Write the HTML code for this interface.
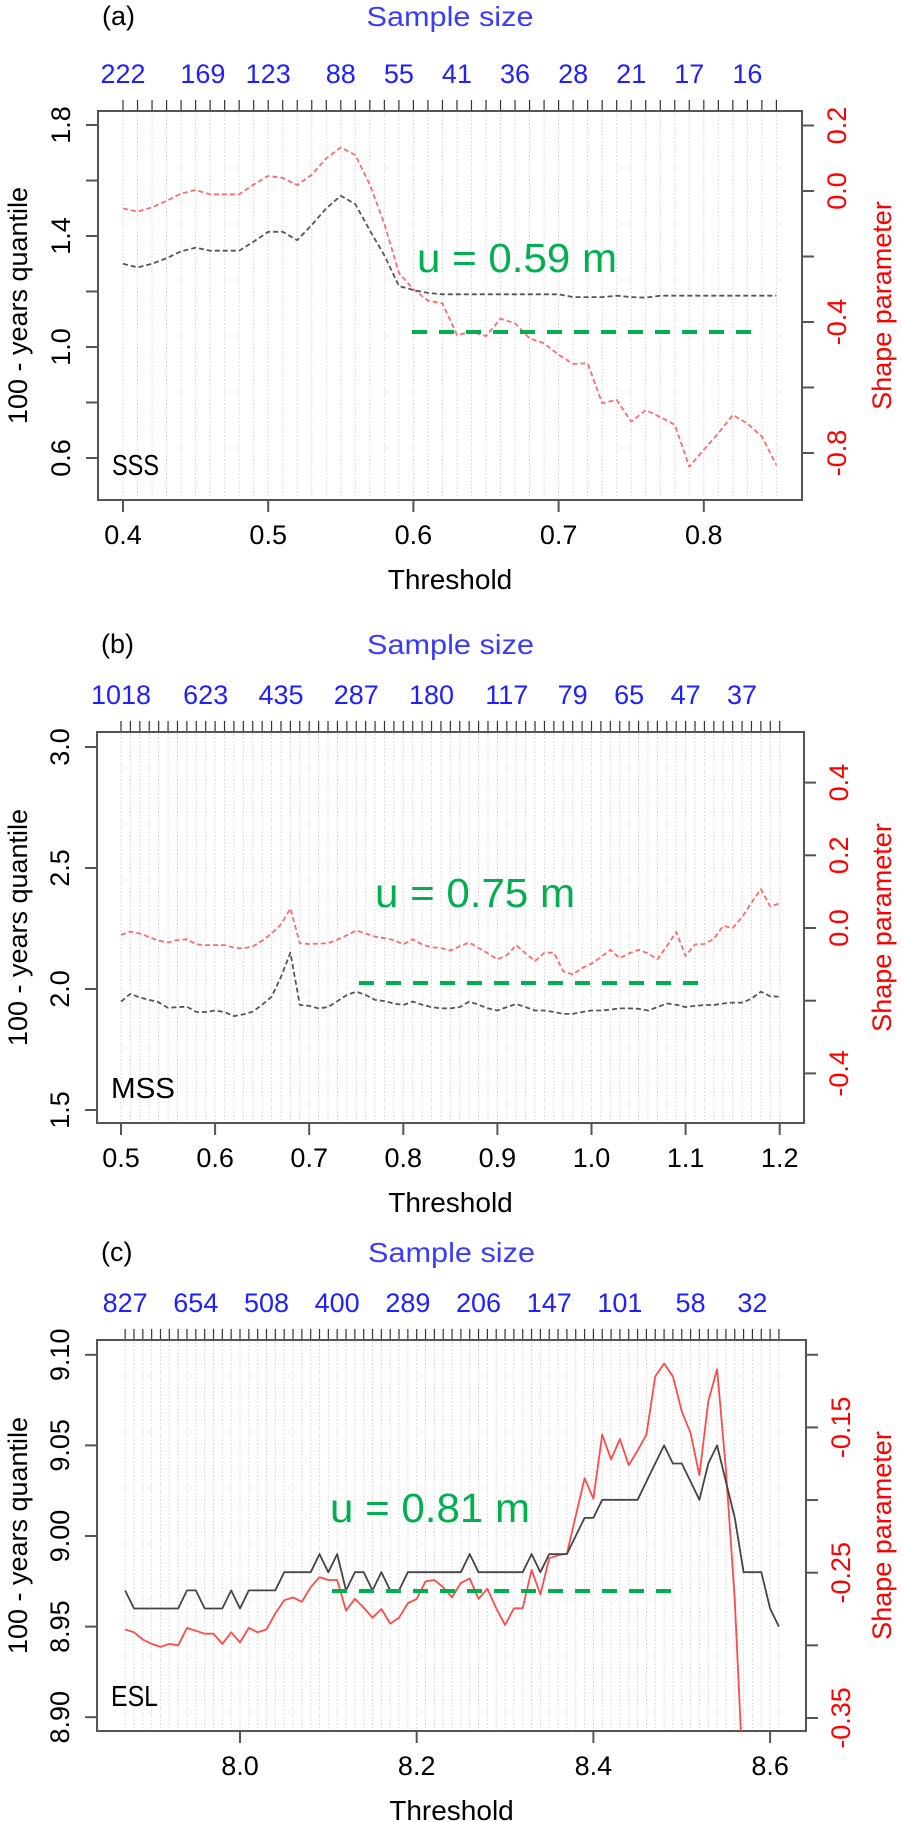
<!DOCTYPE html>
<html>
<head>
<meta charset="utf-8">
<style>
html,body{margin:0;padding:0;background:#fff;}
svg{display:block;}
text{font-family:"Liberation Sans",Arial,sans-serif;}
</style>
</head>
<body>
<svg id="fig" width="902" height="1822" viewBox="0 0 902 1822" xmlns="http://www.w3.org/2000/svg"></svg>
<script>
// ---------- Panel (a) SSS data ----------
const aStart = 0.40;
const aQuantile = [1.30,1.287,1.30,1.32,1.345,1.358,1.347,1.347,1.347,1.38,1.415,1.415,1.385,1.44,1.50,1.545,1.515,1.42,1.33,1.22,1.205,1.195,1.19,1.19,1.19,1.19,1.19,1.19,1.19,1.19,1.19,1.18,1.18,1.18,1.185,1.18,1.178,1.185,1.185,1.185,1.185,1.185,1.185,1.185,1.185,1.185];
const aShape = [-0.053,-0.063,-0.05,-0.03,-0.008,0.003,-0.01,-0.01,-0.01,0.02,0.046,0.04,0.018,0.05,0.10,0.133,0.11,0.02,-0.1,-0.25,-0.30,-0.335,-0.343,-0.44,-0.43,-0.443,-0.39,-0.404,-0.45,-0.465,-0.50,-0.528,-0.526,-0.648,-0.638,-0.704,-0.669,-0.69,-0.714,-0.842,-0.79,-0.74,-0.684,-0.71,-0.75,-0.837];
const aSizeLabels = ["222","169","123","88","55","41","36","28","21","17","16"];
const aSizeAt = [0.40,0.455,0.50,0.55,0.59,0.63,0.67,0.71,0.75,0.79,0.83];
const aXTicks = [0.4,0.5,0.6,0.7,0.8];
const aLeftTicks = [0.6,0.8,1.0,1.2,1.4,1.6,1.8];
const aLeftLabels = ["0.6","","1.0","","1.4","","1.8"];
const aRightTicks = [-0.8,-0.6,-0.4,-0.2,0.0,0.2];
const aRightLabels = ["-0.8","","-0.4","","0.0","0.2"];

// ---------- Panel (b) MSS data ----------
const bStart = 0.50;
const bQuantile = [1.948,1.98,1.965,1.955,1.945,1.922,1.925,1.927,1.905,1.905,1.911,1.905,1.888,1.895,1.906,1.935,1.968,2.05,2.15,1.934,1.93,1.92,1.925,1.95,1.975,1.989,1.975,1.955,1.95,1.94,1.934,1.948,1.935,1.925,1.92,1.92,1.925,1.948,1.935,1.92,1.911,1.925,1.938,1.925,1.911,1.911,1.905,1.897,1.897,1.905,1.911,1.911,1.915,1.92,1.92,1.918,1.911,1.925,1.94,1.935,1.925,1.93,1.934,1.934,1.94,1.944,1.944,1.96,1.989,1.97,1.968];
const bShape = [-0.019,-0.010,-0.015,-0.025,-0.035,-0.040,-0.033,-0.031,-0.045,-0.047,-0.047,-0.047,-0.054,-0.056,-0.051,-0.035,-0.015,0.01,0.054,-0.042,-0.044,-0.043,-0.042,-0.032,-0.02,-0.007,-0.015,-0.024,-0.028,-0.033,-0.045,-0.031,-0.045,-0.053,-0.055,-0.062,-0.050,-0.040,-0.055,-0.07,-0.086,-0.075,-0.047,-0.07,-0.091,-0.068,-0.068,-0.119,-0.128,-0.11,-0.098,-0.08,-0.06,-0.083,-0.07,-0.06,-0.07,-0.086,-0.05,-0.011,-0.077,-0.045,-0.044,-0.03,0.006,0.000,0.03,0.07,0.107,0.059,0.068];
const bSizeLabels = ["1018","623","435","287","180","117","79","65","47","37"];
const bSizeAt = [0.50,0.59,0.67,0.75,0.83,0.91,0.98,1.04,1.10,1.16];
const bXTicks = [0.5,0.6,0.7,0.8,0.9,1.0,1.1,1.2];
const bLeftTicks = [1.5,2.0,2.5,3.0];
const bLeftLabels = ["1.5","2.0","2.5","3.0"];
const bRightTicks = [-0.4,-0.2,0.0,0.2,0.4];
const bRightLabels = ["-0.4","","0.0","0.2","0.4"];

// ---------- Panel (c) ESL data ----------
const cStart = 7.87;
const cQuantile = [8.97,8.96,8.96,8.96,8.96,8.96,8.96,8.97,8.97,8.96,8.96,8.96,8.97,8.96,8.97,8.97,8.97,8.97,8.98,8.98,8.98,8.98,8.99,8.98,8.99,8.97,8.98,8.98,8.97,8.98,8.97,8.97,8.98,8.98,8.98,8.98,8.98,8.98,8.98,8.99,8.98,8.98,8.98,8.98,8.98,8.98,8.99,8.98,8.99,8.99,8.99,9.00,9.01,9.01,9.02,9.02,9.02,9.02,9.02,9.03,9.04,9.05,9.04,9.04,9.03,9.02,9.04,9.05,9.03,9.01,8.98,8.98,8.98,8.96,8.95];
const cShape = [-0.289,-0.291,-0.296,-0.299,-0.301,-0.299,-0.300,-0.288,-0.290,-0.292,-0.292,-0.299,-0.291,-0.298,-0.288,-0.291,-0.289,-0.278,-0.269,-0.267,-0.270,-0.260,-0.253,-0.255,-0.255,-0.276,-0.268,-0.274,-0.281,-0.275,-0.285,-0.281,-0.271,-0.268,-0.256,-0.255,-0.260,-0.267,-0.257,-0.254,-0.268,-0.261,-0.2745,-0.286,-0.2745,-0.2745,-0.248,-0.265,-0.240,-0.238,-0.237,-0.211,-0.185,-0.199,-0.155,-0.172,-0.158,-0.176,-0.166,-0.155,-0.115,-0.106,-0.115,-0.139,-0.154,-0.183,-0.132,-0.110,-0.179,-0.269,-0.40];
const cSizeLabels = ["827","654","508","400","289","206","147","101","58","32"];
const cSizeAt = [7.87,7.95,8.03,8.11,8.19,8.27,8.35,8.43,8.51,8.58];
const cXTicks = [8.0,8.2,8.4,8.6];
const cLeftTicks = [8.90,8.95,9.00,9.05,9.10];
const cLeftLabels = ["8.90","8.95","9.00","9.05","9.10"];
const cRightTicks = [-0.35,-0.30,-0.25,-0.20,-0.15,-0.10];
const cRightLabels = ["-0.35","","-0.25","","-0.15",""];

const NS = "http://www.w3.org/2000/svg";
const svg = document.getElementById("fig");
function mk(parent, tag, attrs, txt){
  const e = document.createElementNS(NS, tag);
  for (const k in attrs) e.setAttribute(k, attrs[k]);
  if (txt !== undefined) e.textContent = txt;
  parent.appendChild(e);
  return e;
}

function drawPanel(p){
  const g = mk(svg, "g", {});
  
  
  const X = t => p.x0 + (t - p.t0) * p.xs;
  const YL = v => p.yl0 - (v - p.vl0) * p.yls;
  const YR = v => p.yr0 - (v - p.vr0) * p.yrs;
  const cid = "clip-" + p.id;
  const defs = mk(g, "defs", {});
  const cp = mk(defs, "clipPath", {id: cid});
  mk(cp, "rect", {x: p.L, y: p.T, width: p.R - p.L, height: p.B - p.T});

  const lt = mk(g, "text", {x: p.L + 4, y: p.titleY + 9, "font-size": 27, fill: "#000"}, "(" + p.id + ")");
  
  
  const st = mk(g, "text", {x: (p.L + p.R) / 2, y: p.titleY + 10, "font-size": 28, fill: "#3b3bff", "text-anchor": "middle", textLength: 167, lengthAdjust: "spacingAndGlyphs"}, "Sample size");
  
  

  const n = p.quant.length;
  for (let i = 0; i < n; i++){
    const t = p.start + i * 0.01;
    const x = X(t);
    const gl = mk(g, "line", {x1: x, y1: p.T + 2, x2: x, y2: p.B - 2, stroke: "#d4d4d4", "stroke-width": 1, "stroke-dasharray": "1.5 2"});
    
    
    const tk = mk(g, "line", {x1: x, y1: p.T, x2: x, y2: p.T - 11, stroke: "#333", "stroke-width": 1.2});
    
    
  }
  p.sizeLabels.forEach((s, i) => {
    const tx = mk(g, "text", {x: X(p.sizeAt[i]), y: p.T - 28, "font-size": 27, fill: "#1f1fff", "text-anchor": "middle"}, s);
    
    
  });

  const fr = mk(g, "rect", {x: p.L, y: p.T, width: p.R - p.L, height: p.B - p.T, fill: "none", stroke: "#555", "stroke-width": 2});
  
  

  p.xTicks.forEach(t => {
    const x = X(t);
    const tk = mk(g, "line", {x1: x, y1: p.B, x2: x, y2: p.B + 12, stroke: "#555", "stroke-width": 2});
    
    
    const tl = mk(g, "text", {x: x, y: p.B + 44, "font-size": 27, fill: "#000", "text-anchor": "middle"}, t.toFixed(1));
    
    
  });
  const xt = mk(g, "text", {x: (p.L + p.R) / 2, y: p.B + 89, "font-size": 28, fill: "#000", "text-anchor": "middle"}, "Threshold");
  
  

  p.leftTicks.forEach((v, i) => {
    const y = YL(v);
    const tk = mk(g, "line", {x1: p.L, y1: y, x2: p.L - 12, y2: y, stroke: "#555", "stroke-width": 2});
    
    
    if (p.leftLabels[i]){
      const tl = mk(g, "text", {x: 0, y: 0, "font-size": 27, fill: "#000", "text-anchor": "middle", transform: "translate(" + (p.L - 28) + "," + y + ") rotate(-90)"}, p.leftLabels[i]);
      
      
    }
  });
  const yt = mk(g, "text", {x: 0, y: 0, "font-size": 27, fill: "#000", "text-anchor": "middle", transform: "translate(27," + ((p.T + p.B) / 2) + ") rotate(-90)"}, "100 - years quantile");
  
  

  p.rightTicks.forEach((v, i) => {
    const y = YR(v);
    const tk = mk(g, "line", {x1: p.R, y1: y, x2: p.R + 12, y2: y, stroke: "#555", "stroke-width": 2});
    
    
    if (p.rightLabels[i]){
      const tl = mk(g, "text", {x: 0, y: 0, "font-size": 27, fill: "#ff0000", "text-anchor": "middle", transform: "translate(" + (p.R + 44) + "," + y + ") rotate(-90)"}, p.rightLabels[i]);
      
      
    }
  });
  const rt = mk(g, "text", {x: 0, y: 0, "font-size": 27, fill: "#ff0000", "text-anchor": "middle", transform: "translate(891," + ((p.T + p.B) / 2) + ") rotate(-90)"}, "Shape parameter");
  
  

  const sg = mk(g, "g", {"clip-path": "url(#" + cid + ")"});
  const qpts = p.quant.map((v, i) => X(p.start + i * 0.01).toFixed(1) + "," + YL(v).toFixed(1)).join(" ");
  const spts = p.shape.map((v, i) => X(p.start + i * 0.01).toFixed(1) + "," + YR(v).toFixed(1)).join(" ");
  const sh = mk(sg, "polyline", {points: spts, fill: "none", stroke: p.solid ? "#ff4a4a" : "#ff6b6b", "stroke-width": 1.8, "stroke-dasharray": p.solid ? "none" : "5 3", "stroke-linejoin": "round"});
  
  
  const ql = mk(sg, "polyline", {points: qpts, fill: "none", stroke: p.solid ? "#444" : "#555", "stroke-width": 1.8, "stroke-dasharray": p.solid ? "none" : "5 3", "stroke-linejoin": "round"});
  
  

  const gr = mk(g, "line", {x1: p.gx1, y1: p.gy, x2: p.gx2, y2: p.gy, stroke: "#00b050", "stroke-width": 4, "stroke-dasharray": "15 12"});
  
  
  const ut = mk(g, "text", {x: p.ux, y: p.uy, "font-size": 41, fill: "#00b050", textLength: 200, lengthAdjust: "spacingAndGlyphs"}, p.utext);
  
  
  const sl = mk(g, "text", {x: p.L + 14, y: p.B - 25, "font-size": 29, fill: "#000", textLength: p.slw, lengthAdjust: "spacingAndGlyphs"}, p.series);
  
  
}

drawPanel({id:"a", L:98, T:111, R:802, B:500, titleY:16,
  t0:0.4, x0:123, xs:1452, vl0:1.8, yl0:125, yls:277.5, vr0:0.2, yr0:125.5, yrs:327.5,
  start:aStart, quant:aQuantile, shape:aShape, sizeLabels:aSizeLabels, sizeAt:aSizeAt,
  xTicks:aXTicks, leftTicks:aLeftTicks, leftLabels:aLeftLabels, rightTicks:aRightTicks, rightLabels:aRightLabels,
  solid:false, gx1:412, gx2:762, gy:332, ux:417, uy:272, utext:"u = 0.59 m", series:"SSS", slw:47});

drawPanel({id:"b", L:97, T:732, R:804, B:1123, titleY:644,
  t0:0.5, x0:121, xs:941, vl0:2.0, yl0:989, yls:242, vr0:0.0, yr0:928, yrs:363.5,
  start:bStart, quant:bQuantile, shape:bShape, sizeLabels:bSizeLabels, sizeAt:bSizeAt,
  xTicks:bXTicks, leftTicks:bLeftTicks, leftLabels:bLeftLabels, rightTicks:bRightTicks, rightLabels:bRightLabels,
  solid:false, gx1:359, gx2:708, gy:983, ux:375, uy:907, utext:"u = 0.75 m", series:"MSS", slw:64});

drawPanel({id:"c", L:97, T:1340, R:806, B:1731, titleY:1252,
  t0:8.0, x0:240, xs:883.5, vl0:9.0, yl0:1536, yls:1812, vr0:-0.25, yr0:1572.7, yrs:1453,
  start:cStart, quant:cQuantile, shape:cShape, sizeLabels:cSizeLabels, sizeAt:cSizeAt,
  xTicks:cXTicks, leftTicks:cLeftTicks, leftLabels:cLeftLabels, rightTicks:cRightTicks, rightLabels:cRightLabels,
  solid:true, gx1:332, gx2:681, gy:1591, ux:330, uy:1522, utext:"u = 0.81 m", series:"ESL", slw:47});
</script>
</body>
</html>
